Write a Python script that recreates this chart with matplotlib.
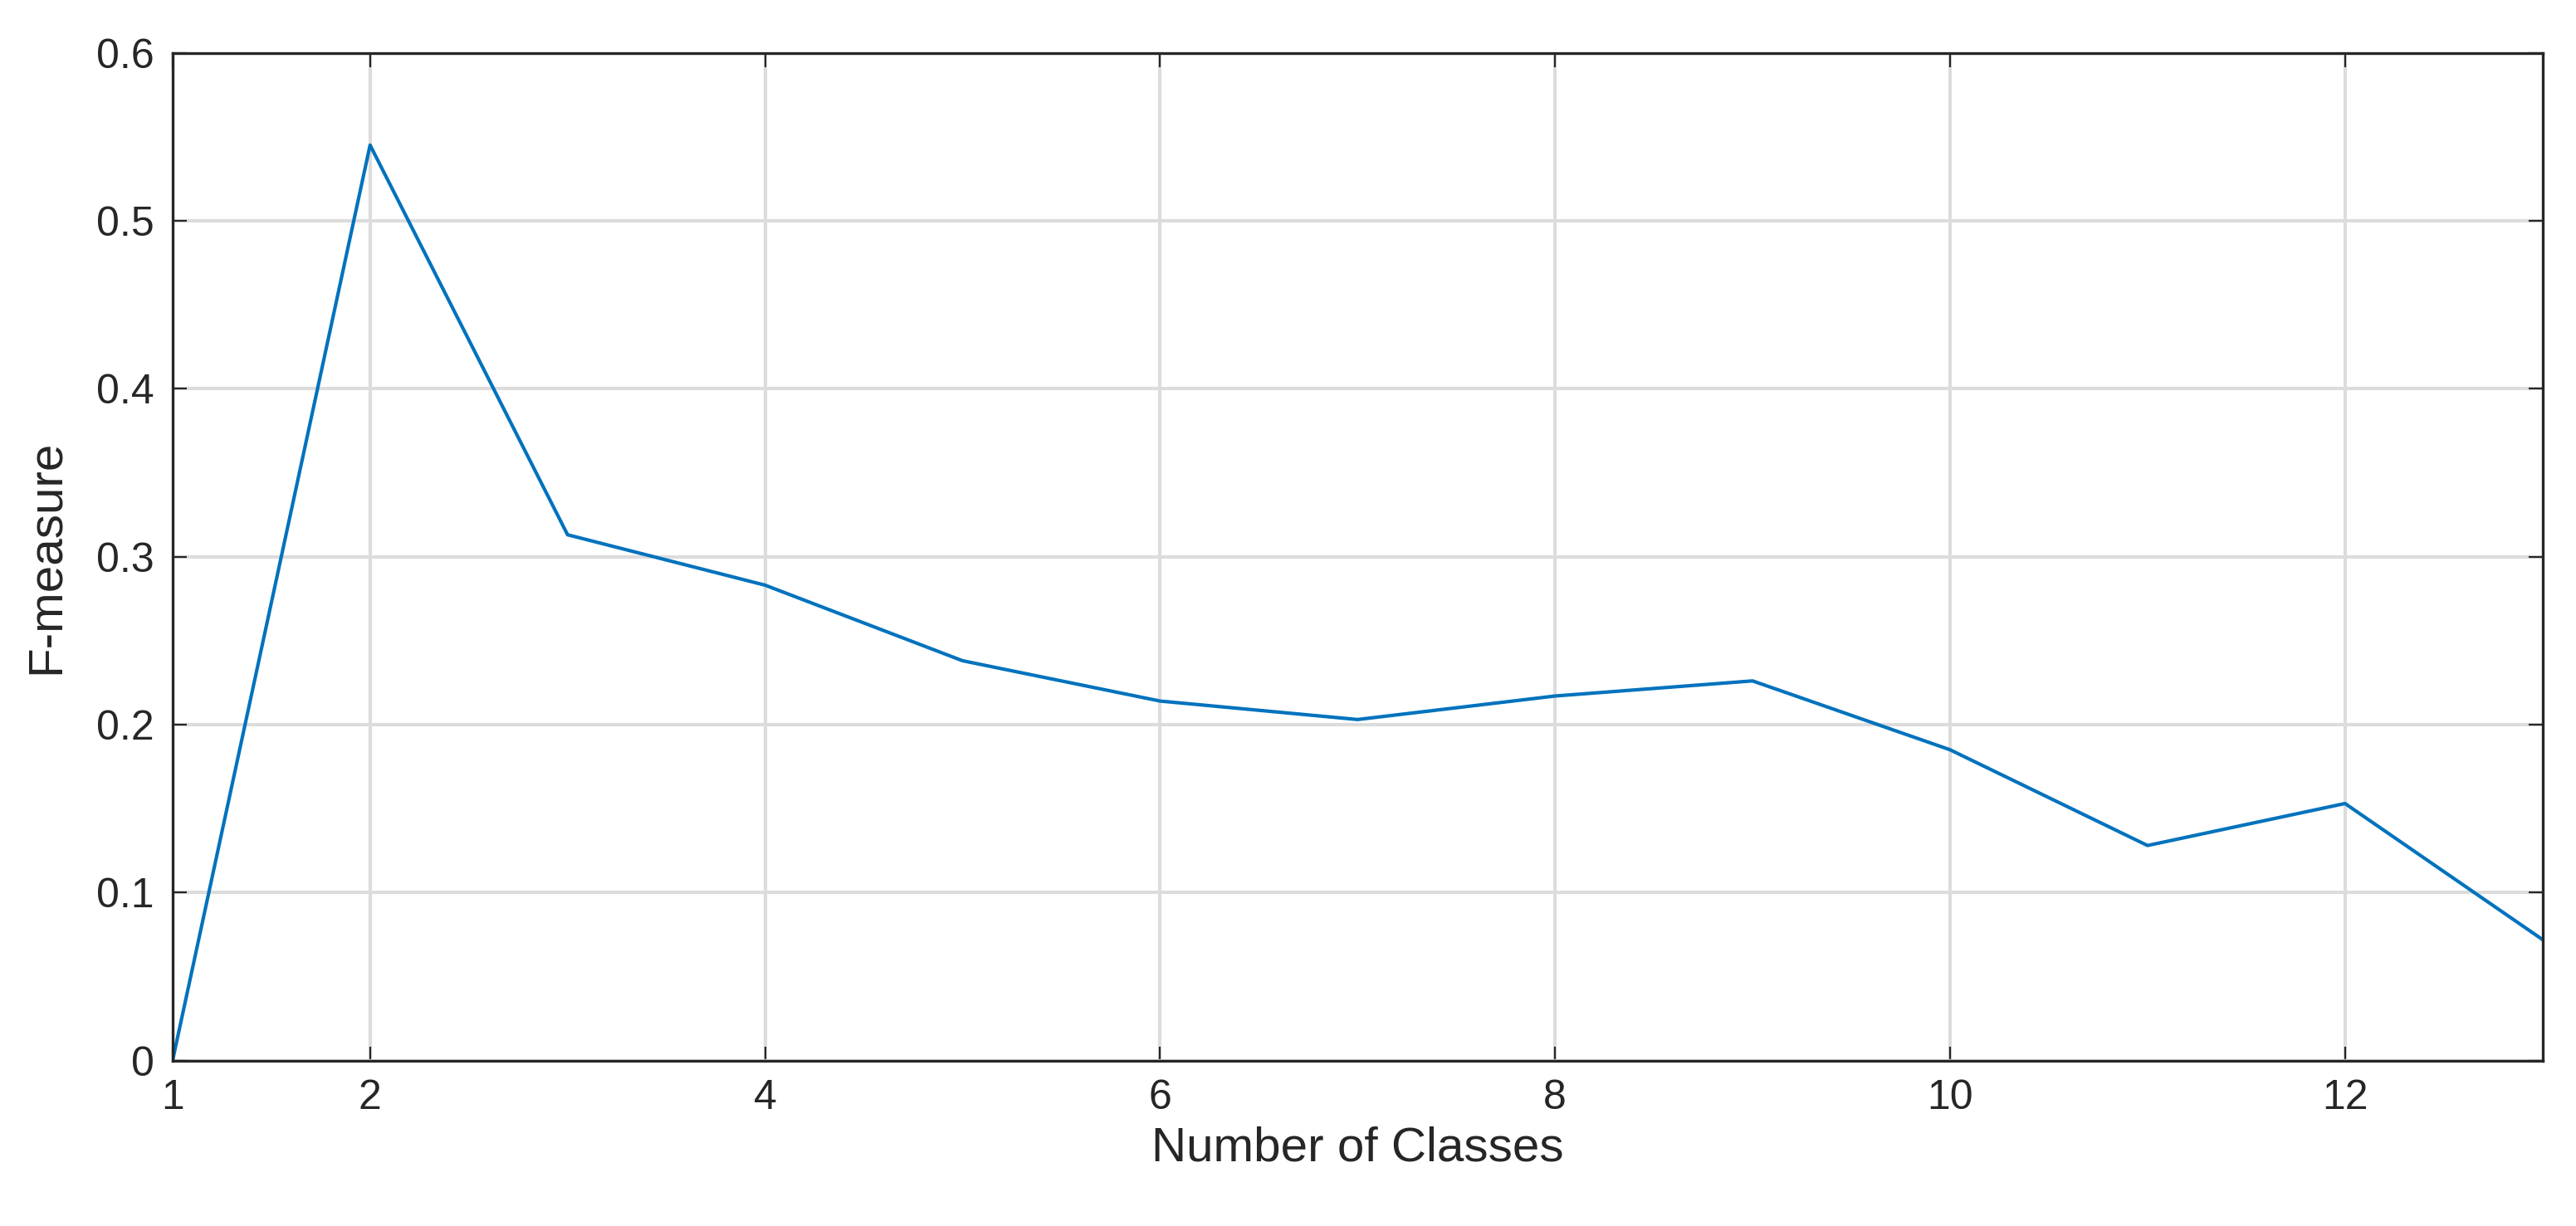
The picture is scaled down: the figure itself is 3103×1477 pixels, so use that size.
import numpy as np
import matplotlib
matplotlib.use("Agg")
import matplotlib.pyplot as plt

plt.rcParams['font.family'] = ['Liberation Sans', 'DejaVu Sans']

n_classes = [1, 2, 3, 4, 5, 6, 7, 8, 9, 10, 11, 12, 13]
f_measure = [0.0, 0.545, 0.313, 0.283, 0.238, 0.214, 0.203, 0.217, 0.226, 0.185, 0.128, 0.153, 0.072]
x_ticks = [1, 2, 4, 6, 8, 10, 12]
y_ticks = [0, 0.1, 0.2, 0.3, 0.4, 0.5, 0.6]

fig = plt.figure(figsize=(3103/200, 1477/200), dpi=200)
ax = fig.add_axes([0.067, 0.135, 0.92, 0.822])

ax.plot(n_classes, f_measure, color='#0072BD', linewidth=1.5)

ax.set_xlim(1, 13)
ax.set_ylim(0, 0.6)
ax.set_xticks(x_ticks)
ax.set_yticks(y_ticks)
ax.set_yticklabels(['0', '0.1', '0.2', '0.3', '0.4', '0.5', '0.6'])
ax.grid(True, color='#dcdcdc', linewidth=1.5)
ax.set_axisbelow(True)
ax.tick_params(direction='in', length=6, labelsize=18, colors='#262626', top=True, right=True, pad=8)
for s in ax.spines.values():
	s.set_color('#262626')
	s.set_linewidth(1.2)

ax.set_xlabel('Number of Classes', fontsize=21, color='#262626', labelpad=4)
ax.set_ylabel('F-measure', fontsize=21, color='#262626', labelpad=12)

plt.savefig('out.png', dpi=200)
